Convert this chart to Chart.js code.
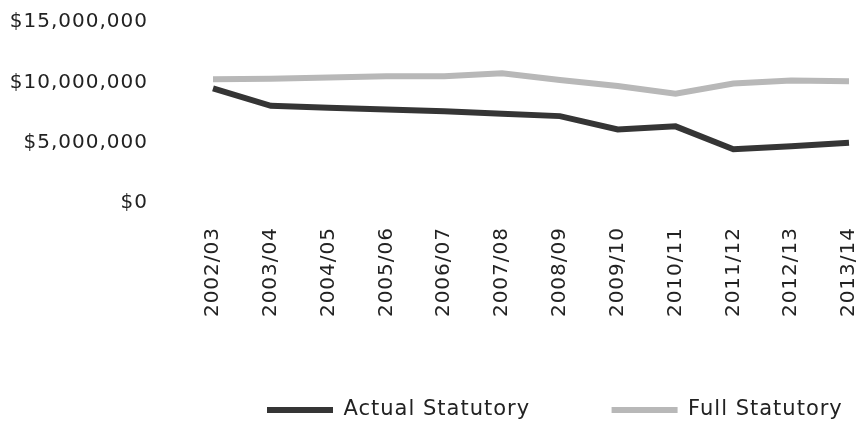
<!DOCTYPE html>
<html>
<head>
<meta charset="utf-8">
<script src="https://cdn.jsdelivr.net/npm/chart.js@4"></script>
<style>
  html, body { margin: 0; padding: 0; background: #fff; }
  #wrap { width: 859px; height: 421px; }
</style>
</head>
<body>
<div id="wrap"><canvas id="canvas-1"></canvas></div>
<script>
// values (dollars)
const years = ["2002/03", "2003/04", "2004/05", "2005/06", "2006/07", "2007/08",
  "2008/09", "2009/10", "2010/11", "2011/12", "2012/13", "2013/14"];
const actualStatutory = [9500000, 8050000, 7900000, 7750000, 7600000, 7400000,
  7200000, 6100000, 6350000, 4450000, 4700000, 5000000];
const fullStatutory = [10250000, 10300000, 10400000, 10500000, 10500000, 10750000,
  10200000, 9700000, 9050000, 9900000, 10150000, 10100000];
const yTicks = [0, 5000000, 10000000, 15000000];

const FONT = "'DejaVu Sans', sans-serif";

// the original uses a wide, loosely spaced face
const spacing = {
  id: "spacing",
  beforeLayout(chart) { chart.ctx.letterSpacing = "1px"; },
  beforeDraw(chart) { chart.ctx.letterSpacing = "1px"; },
  // legend sits off-centre, under the right part of the plot
  afterLayout(chart) {
    if (chart.legend) {
      chart.legend.left = 185.5;
      chart.legend.right = 1000; // keep both items on one row
    }
  },
};

const lineChart = new Chart(document.getElementById("canvas-1"), {
  type: "line",
  data: {
    labels: years,
    datasets: [
      {
        label: "Actual Statutory",
        data: actualStatutory,
        borderColor: "#353535",
        backgroundColor: "#353535",
        borderWidth: 6,
        pointRadius: 0,
        tension: 0,
      },
      {
        label: "Full Statutory",
        data: fullStatutory,
        borderColor: "#b8b8b8",
        backgroundColor: "#b8b8b8",
        borderWidth: 6,
        pointRadius: 0,
        tension: 0,
      },
    ],
  },
  options: {
    responsive: true,
    maintainAspectRatio: false,
    animation: false,
    layout: {
      padding: { left: 9, right: 0, top: 22, bottom: -9.5 },
    },
    plugins: {
      tooltip: { enabled: false },
      legend: {
        position: "bottom",
        align: "start",
        labels: {
          usePointStyle: true,
          pointStyle: "line",
          pointStyleWidth: 66,
          padding: 81.5,
          color: "#222",
          font: { family: FONT, size: 21 },
        },
      },
    },
    scales: {
      x: {
        grid: { display: false, drawTicks: false },
        border: { display: false },
        ticks: {
          autoSkip: false,
          minRotation: 90,
          maxRotation: 90,
          padding: 24,
          color: "#222",
          font: { family: FONT, size: 20 },
        },
        afterFit(scale) {
          scale.height = 115;
          scale.paddingLeft = 0;
          scale.paddingRight = 10;
        },
      },
      y: {
        min: 0,
        max: 15000000,
        grid: { display: false, drawTicks: false },
        border: { display: false },
        afterBuildTicks(scale) { scale.ticks = yTicks.map((v) => ({ value: v })); },
        ticks: {
          padding: 65,
          color: "#222",
          font: { family: FONT, size: 20 },
          callback: (v) => "$" + Number(v).toLocaleString("en-US"),
        },
        afterFit(scale) {
          scale.width = 204;
          scale.paddingTop = 10;
          scale.paddingBottom = 10;
        },
      },
    },
  },
  plugins: [spacing],
});
</script>
</body>
</html>
